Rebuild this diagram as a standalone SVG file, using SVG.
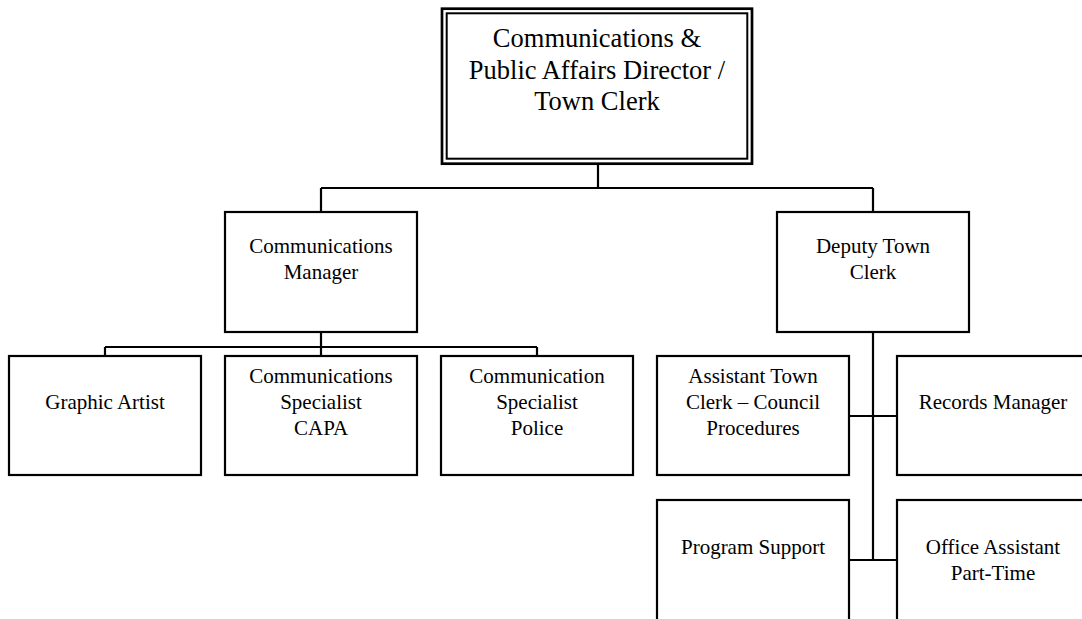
<svg xmlns="http://www.w3.org/2000/svg" width="1082" height="619" viewBox="0 0 1082 619">
  <style>
    .box { fill: #ffffff; stroke: #000000; stroke-width: 2.2; }
    .line { fill: none; stroke: #000000; stroke-width: 2.2; }
    .lbl { font-family: "Liberation Serif", "Times New Roman", serif; font-size: 21px; fill: #000000; text-anchor: middle; }
    .title { font-family: "Liberation Serif", "Times New Roman", serif; font-size: 26.5px; fill: #000000; text-anchor: middle; }
  </style>
  <rect width="1082" height="619" fill="#ffffff"/>

  <!-- connectors -->
  <g id="connectors">
    <path class="line" d="M598 164 V188 M321 188 H873 M321 188 V212 M873 188 V212"/>
    <path class="line" d="M321 332 V347 M105 347 H537 M105 347 V356 M321 347 V356 M537 347 V356"/>
    <path class="line" d="M873 332 V560 M849 416 H897 M849 560 H897"/>
  </g>

  <!-- director (double border) -->
  <g id="director">
    <rect x="442" y="8.7" width="310" height="155" fill="#ffffff" stroke="#000000" stroke-width="2.7"/>
    <rect x="446.7" y="13.3" width="300.6" height="145.4" fill="none" stroke="#000000" stroke-width="2"/>
    <text class="title" x="597" y="47">Communications &amp;</text>
    <text class="title" x="597" y="79">Public Affairs Director /</text>
    <text class="title" x="597" y="110">Town Clerk</text>
  </g>

  <g id="comm-manager">
    <rect class="box" x="225" y="212" width="192" height="120"/>
    <text class="lbl" x="321" y="253">Communications</text>
    <text class="lbl" x="321" y="279">Manager</text>
  </g>

  <g id="deputy-clerk">
    <rect class="box" x="777" y="212" width="192" height="120"/>
    <text class="lbl" x="873" y="253">Deputy Town</text>
    <text class="lbl" x="873" y="279">Clerk</text>
  </g>

  <g id="graphic-artist">
    <rect class="box" x="9" y="356" width="192" height="119"/>
    <text class="lbl" x="105" y="409">Graphic Artist</text>
  </g>

  <g id="comm-specialist-capa">
    <rect class="box" x="225" y="356" width="192" height="119"/>
    <text class="lbl" x="321" y="383">Communications</text>
    <text class="lbl" x="321" y="409">Specialist</text>
    <text class="lbl" x="321" y="435">CAPA</text>
  </g>

  <g id="comm-specialist-police">
    <rect class="box" x="441" y="356" width="192" height="119"/>
    <text class="lbl" x="537" y="383">Communication</text>
    <text class="lbl" x="537" y="409">Specialist</text>
    <text class="lbl" x="537" y="435">Police</text>
  </g>

  <g id="assistant-clerk">
    <rect class="box" x="657" y="356" width="192" height="119"/>
    <text class="lbl" x="753" y="383">Assistant Town</text>
    <text class="lbl" x="753" y="409">Clerk – Council</text>
    <text class="lbl" x="753" y="435">Procedures</text>
  </g>

  <g id="records-manager">
    <rect class="box" x="897" y="356" width="192" height="119"/>
    <text class="lbl" x="993" y="409">Records Manager</text>
  </g>

  <g id="program-support">
    <rect class="box" x="657" y="500" width="192" height="130"/>
    <text class="lbl" x="753" y="554">Program Support</text>
  </g>

  <g id="office-assistant">
    <rect class="box" x="897" y="500" width="192" height="130"/>
    <text class="lbl" x="993" y="554">Office Assistant</text>
    <text class="lbl" x="993" y="580">Part-Time</text>
  </g>
</svg>
